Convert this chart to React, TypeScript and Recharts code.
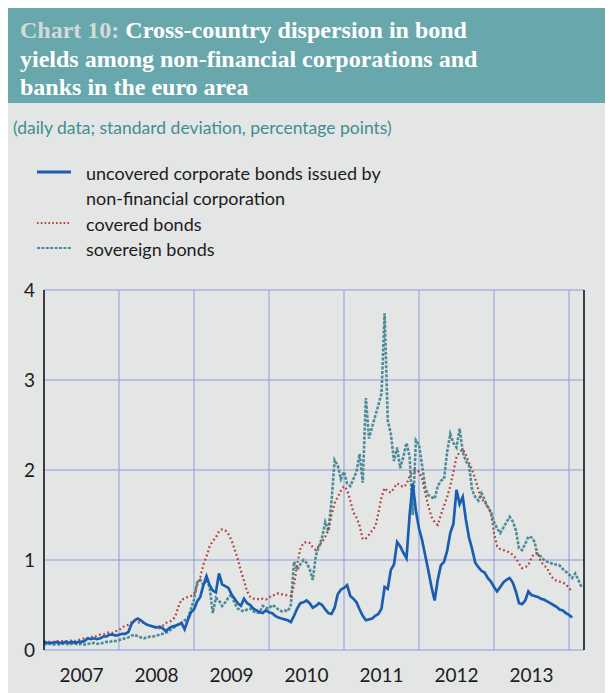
import { LineChart, Line, XAxis, YAxis, CartesianGrid } from 'recharts'

// half-monthly readings, Jan 2007 onwards
const startYear = 2007
const stepsPerYear = 24

const uncovered = [
  0.09, 0.08, 0.08, 0.08, 0.09, 0.08, 0.08, 0.09, 0.08, 0.09, 0.08, 0.09, 0.09, 0.10, 0.13, 0.12, 0.13, 0.12, 0.13, 0.15, 0.15, 0.17, 0.17, 0.16,
  0.17, 0.18, 0.18, 0.20, 0.29, 0.33, 0.35, 0.33, 0.30, 0.28, 0.27, 0.26, 0.25, 0.26, 0.24, 0.21, 0.24, 0.26, 0.27, 0.28, 0.30, 0.23, 0.33, 0.42,
  0.45, 0.54, 0.59, 0.72, 0.82, 0.72, 0.66, 0.64, 0.85, 0.73, 0.71, 0.69, 0.62, 0.57, 0.52, 0.49, 0.57, 0.52, 0.50, 0.46, 0.44, 0.42, 0.41, 0.44,
  0.42, 0.41, 0.38, 0.36, 0.35, 0.34, 0.33, 0.31, 0.38, 0.46, 0.52, 0.53, 0.55, 0.52, 0.47, 0.49, 0.52, 0.50, 0.45, 0.41, 0.40, 0.47, 0.62, 0.67,
  0.69, 0.72, 0.60, 0.57, 0.53, 0.45, 0.38, 0.33, 0.34, 0.35, 0.38, 0.40, 0.46, 0.70, 0.68, 0.89, 0.95, 1.20, 1.15, 1.08, 1.02, 1.50, 1.85, 1.55,
  1.35, 1.22, 1.05, 0.88, 0.70, 0.55, 0.78, 0.94, 0.98, 1.10, 1.30, 1.40, 1.78, 1.62, 1.70, 1.45, 1.25, 1.12, 0.97, 0.92, 0.88, 0.86, 0.80, 0.76,
  0.70, 0.65, 0.70, 0.75, 0.78, 0.80, 0.75, 0.65, 0.52, 0.51, 0.55, 0.65, 0.61, 0.60, 0.59, 0.57, 0.56, 0.54, 0.52, 0.50, 0.48, 0.45, 0.44, 0.41,
  0.39, 0.36,
]

const covered = [
  0.09, 0.09, 0.09, 0.09, 0.10, 0.09, 0.10, 0.10, 0.10, 0.11, 0.10, 0.11, 0.12, 0.13, 0.13, 0.15, 0.14, 0.16, 0.17, 0.17, 0.19, 0.20, 0.19, 0.21,
  0.22, 0.25, 0.27, 0.28, 0.31, 0.33, 0.31, 0.30, 0.30, 0.28, 0.27, 0.26, 0.25, 0.24, 0.27, 0.30, 0.31, 0.33, 0.37, 0.48, 0.56, 0.57, 0.59, 0.60,
  0.62, 0.72, 0.81, 0.95, 1.04, 1.15, 1.21, 1.25, 1.32, 1.34, 1.33, 1.29, 1.22, 1.12, 1.01, 0.88, 0.77, 0.65, 0.59, 0.57, 0.57, 0.56, 0.57, 0.56,
  0.58, 0.61, 0.61, 0.63, 0.62, 0.61, 0.61, 0.60, 0.72, 0.95, 1.12, 1.19, 1.20, 1.19, 1.14, 1.11, 1.16, 1.20, 1.26, 1.33, 1.50, 1.63, 1.70, 1.77,
  1.82, 1.78, 1.66, 1.53, 1.47, 1.38, 1.23, 1.24, 1.28, 1.33, 1.37, 1.52, 1.70, 1.80, 1.76, 1.75, 1.80, 1.85, 1.83, 1.81, 1.84, 1.93, 1.98, 2.00,
  1.98, 1.90, 1.74, 1.60, 1.48, 1.42, 1.39, 1.50, 1.60, 1.70, 1.82, 1.98, 2.14, 2.20, 2.23, 2.17, 2.08, 2.00, 1.90, 1.78, 1.68, 1.64, 1.60, 1.52,
  1.30, 1.15, 1.12, 1.11, 1.10, 1.08, 1.06, 1.02, 0.96, 0.91, 0.92, 0.94, 1.03, 1.07, 1.08, 0.98, 0.94, 0.91, 0.84, 0.79, 0.77, 0.76, 0.75, 0.73,
  0.69, 0.65,
]

const sovereign = [
  0.07, 0.06, 0.07, 0.06, 0.07, 0.06, 0.07, 0.07, 0.06, 0.07, 0.07, 0.06, 0.07, 0.06, 0.07, 0.07, 0.08, 0.07, 0.07, 0.08, 0.09, 0.09, 0.10, 0.10,
  0.11, 0.12, 0.13, 0.14, 0.16, 0.17, 0.15, 0.14, 0.13, 0.14, 0.15, 0.15, 0.16, 0.17, 0.18, 0.19, 0.21, 0.24, 0.26, 0.29, 0.30, 0.33, 0.35, 0.45,
  0.56, 0.75, 0.78, 0.72, 0.78, 0.70, 0.41, 0.58, 0.55, 0.49, 0.53, 0.58, 0.62, 0.52, 0.46, 0.44, 0.43, 0.45, 0.46, 0.43, 0.41, 0.42, 0.49, 0.47,
  0.46, 0.50, 0.48, 0.45, 0.43, 0.44, 0.43, 0.50, 0.98, 0.89, 0.95, 1.00, 0.97, 0.90, 0.78, 1.05, 1.15, 1.25, 1.42, 1.32, 1.65, 2.11, 2.05, 1.90,
  1.98, 1.85, 1.82, 1.90, 1.98, 2.18, 1.86, 2.80, 2.35, 2.48, 2.60, 2.72, 2.85, 3.74, 2.55, 2.40, 2.10, 2.25, 2.02, 2.15, 2.30, 2.15, 1.50, 2.33,
  2.28, 2.05, 1.80, 1.72, 1.70, 1.68, 1.82, 1.88, 1.90, 2.20, 2.40, 2.30, 2.25, 2.46, 2.20, 2.10, 2.05, 1.78, 1.70, 1.66, 1.74, 1.67, 1.58, 1.54,
  1.42, 1.35, 1.30, 1.36, 1.42, 1.48, 1.43, 1.33, 1.13, 1.11, 1.18, 1.26, 1.25, 1.20, 1.05, 1.04, 1.00, 0.98, 0.97, 0.95, 0.95, 0.94, 0.90, 0.87,
  0.84, 0.80, 0.85, 0.78, 0.70,
]

const yearTicks = [2007, 2008, 2009, 2010, 2011, 2012, 2013, 2014]
const yearLabelTicks = [2007.5, 2008.5, 2009.5, 2010.5, 2011.5, 2012.5, 2013.5]
const valueTicks = [0, 1, 2, 3, 4]

const legendItems = [
  { label: 'uncovered corporate bonds issued by', label2: 'non-financial corporation', color: '#1a5eb2', width: 3, dash: undefined },
  { label: 'covered bonds', color: '#b2433a', width: 1.8, dash: '1.6 2.2' },
  { label: 'sovereign bonds', color: '#4b8c98', width: 2, dash: '3 1.4' },
]

const rows = sovereign.map((s, i) => ({
  t: startYear + i / stepsPerYear,
  uncovered: uncovered[i] ?? null,
  covered: covered[i] ?? null,
  sovereign: s,
}))

const tickStyle = { fontSize: 19, fill: '#1c1c1c', fontFamily: 'Lato, sans-serif' }

export default function App() {
  return (
    <div style={{ width: 605, height: 685, background: '#e4e5e5', position: 'relative', fontFamily: 'Lato, sans-serif', overflow: 'hidden' }}>
      <div
        style={{
          height: 95,
          background: '#68a7ac',
          padding: '8px 0 0 12px',
          boxSizing: 'border-box',
          fontFamily: '"Liberation Serif", serif',
          fontWeight: 'bold',
          fontSize: 24,
          lineHeight: '28.5px',
          color: '#fff',
        }}
      >
        <span style={{ color: '#d6d9d9' }}>Chart 10:</span> Cross-country dispersion in bond
        <br />
        yields among non-financial corporations and
        <br />
        banks in the euro area
      </div>
      <div style={{ position: 'absolute', left: 5, top: 109, fontSize: 17.5, color: '#3f8e94', whiteSpace: 'nowrap' }}>
        (daily data; standard deviation, percentage points)
      </div>

      <div style={{ position: 'absolute', left: 29, top: 152.5, fontSize: 18, lineHeight: '25.5px', color: '#1c1c1c' }}>
        {legendItems.map(item => (
          <div key={item.label}>
            <div style={{ display: 'flex', alignItems: 'flex-start' }}>
              <svg width={34} height={25.5} style={{ flex: 'none', marginRight: 15 }}>
                <line x1={0} x2={34} y1={11} y2={11} stroke={item.color} strokeWidth={item.width} strokeDasharray={item.dash} />
              </svg>
              <span style={{ whiteSpace: 'nowrap' }}>{item.label}</span>
            </div>
            {item.label2 && <div style={{ paddingLeft: 49, whiteSpace: 'nowrap' }}>{item.label2}</div>}
          </div>
        ))}
      </div>

      <div style={{ position: 'absolute', left: 0, top: 252 }}>
        <LineChart width={605} height={433} data={rows} margin={{ top: 30, right: 0, bottom: 0, left: 0 }}>
          <CartesianGrid xAxisId="years" yAxisId="left" stroke="#8d9ddf" strokeWidth={1} />
          <XAxis
            xAxisId="years"
            dataKey="t"
            type="number"
            domain={[2007, 2014.2]}
            ticks={yearTicks}
            tickFormatter={() => ''}
            tickSize={10}
            height={0}
            axisLine={{ stroke: '#111', strokeWidth: 1.5 }}
            tickLine={{ stroke: '#111', strokeWidth: 1.5 }}
          />
          <XAxis
            xAxisId="labels"
            dataKey="t"
            type="number"
            domain={[2007, 2014.2]}
            ticks={yearLabelTicks}
            tickFormatter={v => String(Math.floor(v))}
            axisLine={false}
            tickLine={false}
            tickSize={0}
            tickMargin={19}
            height={43}
            tick={tickStyle}
          />
          <YAxis
            yAxisId="left"
            domain={[0, 4]}
            ticks={valueTicks}
            width={36}
            axisLine={{ stroke: '#111', strokeWidth: 1.5 }}
            tickLine={false}
            tickSize={0}
            tickMargin={9}
            tick={tickStyle}
          />
          <YAxis
            yAxisId="right"
            orientation="right"
            domain={[0, 4]}
            ticks={valueTicks}
            width={29}
            axisLine={{ stroke: '#111', strokeWidth: 1.5 }}
            tickLine={false}
            tickSize={0}
            tickMargin={10}
            tick={tickStyle}
          />
          <Line xAxisId="years" yAxisId="left" dataKey="sovereign" type="linear" stroke="#4b8c98" strokeWidth={2.6} strokeDasharray="3 1.5" dot={false} isAnimationActive={false} />
          <Line xAxisId="years" yAxisId="left" dataKey="covered" type="linear" stroke="#b2433a" strokeWidth={2.2} strokeDasharray="1.8 2.6" dot={false} isAnimationActive={false} />
          <Line xAxisId="years" yAxisId="left" dataKey="uncovered" type="linear" stroke="#1a5eb2" strokeWidth={2.7} dot={false} isAnimationActive={false} />
        </LineChart>
      </div>
    </div>
  )
}
